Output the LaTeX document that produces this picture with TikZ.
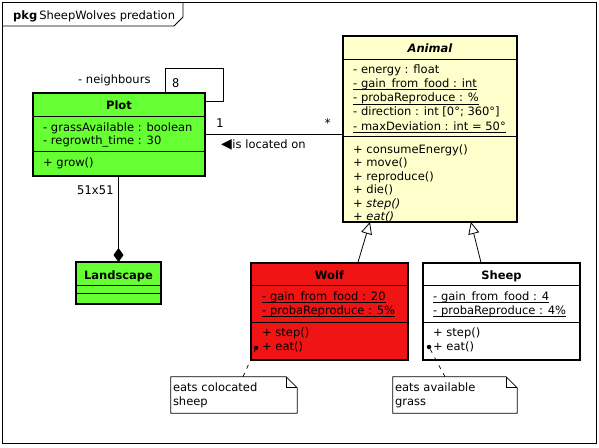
\documentclass[tikz,border=0pt]{standalone}
\usepackage{fontspec}
\setmainfont{DejaVu Sans}
\newfontfamily\multfont{DejaVu Sans Mono}
\usetikzlibrary{arrows.meta,calc}
\definecolor{plotgreen}{RGB}{102,255,51}
\definecolor{wolfred}{RGB}{240,20,20}
\definecolor{animalyellow}{RGB}{255,255,204}
\newcommand{\umlsize}{\fontsize{11.5}{14}\selectfont}
\newcommand{\ulin}[1]{\setbox0\hbox{#1}\rlap{\rule[-2.4pt]{\wd0}{0.6pt}}\box0}

\begin{document}
\begin{tikzpicture}[x=1pt, y=-1pt, font=\umlsize,
  classbox/.style={draw, line width=1.8pt, inner sep=0pt, outer sep=0pt},
  classname/.style={anchor=base, inner sep=0pt, font=\umlsize\bfseries},
  member/.style={anchor=base west, inner sep=0pt},
  compart/.style={line width=0.8pt},
  mult/.style={anchor=base west, inner sep=0pt, font=\multfont\fontsize{12}{14}\selectfont},
  assoc/.style={line width=0.8pt},
  notebox/.style={inner sep=2pt, minimum height=36pt, align=left},
  notedot/.style={circle, fill, inner sep=0pt, minimum size=4.5pt},
  notelink/.style={line width=0.7pt, dash pattern=on 4pt off 5pt},
  generalise/.style={line width=0.8pt, -{Triangle[open, fill=white, length=12pt, width=11pt]}},
  compose/.style={line width=0.8pt, -{Diamond[length=14pt, width=10pt]}}
]
  \useasboundingbox (0,0) rectangle (599,447);

  % Package frame
  \draw[line width=0.8pt] (2,2) rectangle (596,443);
  \draw[line width=0.8pt] (2,26) -- (174,26) -- (183,17) -- (183,2);
  \node[member] (pkgname) at (13,19) {\textbf{pkg}\hspace{2pt}SheepWolves predation};

  % Class boxes
  \node[classbox, fill=plotgreen, minimum width=172pt, minimum height=83pt] (plot) at (119,134.5) {};
  \node[classbox, fill=animalyellow, minimum width=174pt, minimum height=186pt] (animal) at (430,129) {};
  \node[classbox, fill=plotgreen, minimum width=85pt, minimum height=42pt] (landscape) at (118.5,283) {};
  \node[classbox, fill=wolfred, minimum width=157pt, minimum height=97pt] (wolf) at (329.5,311.5) {};
  \node[classbox, fill=white, minimum width=157pt, minimum height=97pt] (sheep) at (501.5,311.5) {};
  \foreach \c/\a/\b in {plot/23/58, animal/23/100, landscape/23/31, wolf/22/59, sheep/22/59} {
    \draw[compart] ($(\c.north west)+(0,\a)$) -- ($(\c.north east)+(0,\a)$);
    \draw[compart] ($(\c.north west)+(0,\b)$) -- ($(\c.north east)+(0,\b)$);
  }

  % Class names
  \node[classname] (plotname) at (119,109) {Plot};
  \node[classname, font=\umlsize\bfseries\itshape] (animalname) at (430,52.5) {Animal};
  \node[classname] (landscapename) at (118.5,279.5) {Landscape};
  \node[classname] (wolfname) at (329.5,279) {Wolf};
  \node[classname] (sheepname) at (501.5,279) {Sheep};

  % Plot members
  \foreach \y/\txt [count=\i] in {131/{- grassAvailable : boolean}, 144.5/{- regrowth\_time : 30}, 166/{+ grow()}} {
    \node[member] (plotm\i) at (43,\y) {\txt};
  }

  % Animal members
  \foreach \y/\txt [count=\i] in {73.5/{- energy : float}, 87.6/{\ulin{- gain\_from\_food : int}},
      101.7/{\ulin{- probaReproduce : \%}}, 115.8/{- direction : int [0°; 360°]},
      130/{\ulin{- maxDeviation : int = 50°}}, 153.5/{+ consumeEnergy()}, 166.9/{+ move()},
      180.3/{+ reproduce()}, 193.7/{+ die()}, 207.1/{\textit{+ step()}}, 220.5/{\textit{+ eat()}}} {
    \node[member] (animalm\i) at (353,\y) {\txt};
  }

  % Wolf and Sheep members
  \foreach \y/\txt [count=\i] in {300/{\ulin{- gain\_from\_food : 20}}, 314/{\ulin{- probaReproduce : 5\%}},
      336.5/{+ step()}, 350.5/{+ eat()}} {
    \node[member] (wolfm\i) at (262,\y) {\txt};
  }
  \foreach \y/\txt [count=\i] in {300/{\ulin{- gain\_from\_food : 4}}, 314/{\ulin{- probaReproduce : 4\%}},
      336.5/{+ step()}, 350.5/{+ eat()}} {
    \node[member] (sheepm\i) at (433,\y) {\txt};
  }

  % Associations
  \draw[assoc] ($(plot.north west)!0.77!(plot.north east)$) |- (223,68) |- ($(plot.north east)+(0,8)$);
  \node[member] (neighbours) at (78,83) {- neighbours};
  \node[mult] (mult8) at (172,87) {8};
  \draw[assoc] (plot.east) -- (plot.east -| animal.west);
  \node[mult] (mult1) at (216,127) {1};
  \node[mult] (multstar) at (324,127) {*};
  \node[member] (locatedon) at (221,148.5) {{\fontsize{14}{14}\selectfont◀}\hspace{0.5pt}is located on};
  \draw[compose] (landscape.north |- plot.south) -- (landscape.north);
  \node[mult] (mult51) at (77,194) {51x51};

  % Generalisations
  \draw[generalise] ($(wolf.north west)!0.68!(wolf.north east)$) -- ($(animal.south west)!0.155!(animal.south east)$);
  \draw[generalise] ($(sheep.north west)!0.37!(sheep.north east)$) -- ($(animal.south west)!0.735!(animal.south east)$);

  % Notes
  \node[notebox, text width=122pt] (wolfnote) at (234,395) {eats colocated\\sheep};
  \node[notebox, text width=120pt] (sheepnote) at (455,395) {eats available\\grass};
  \foreach \n in {wolfnote, sheepnote} {
    \draw[line width=0.7pt] (\n.south west) -- (\n.north west) -- ([xshift=-11pt]\n.north east)
      -- ([yshift=-11pt]\n.north east) -- (\n.south east) -- cycle;
    \draw[line width=0.7pt] ([xshift=-11pt]\n.north east) |- ([yshift=-11pt]\n.north east);
  }
  \node[notedot] (wolfeat) at (256,348) {};
  \node[notedot] (sheepeat) at (429,347) {};
  \draw[notelink] ($(wolfnote.north)+(9,0)$) -- (wolfeat);
  \draw[notelink] ($(sheepnote.north)+(-10,0)$) -- (sheepeat);
\end{tikzpicture}
\end{document}
